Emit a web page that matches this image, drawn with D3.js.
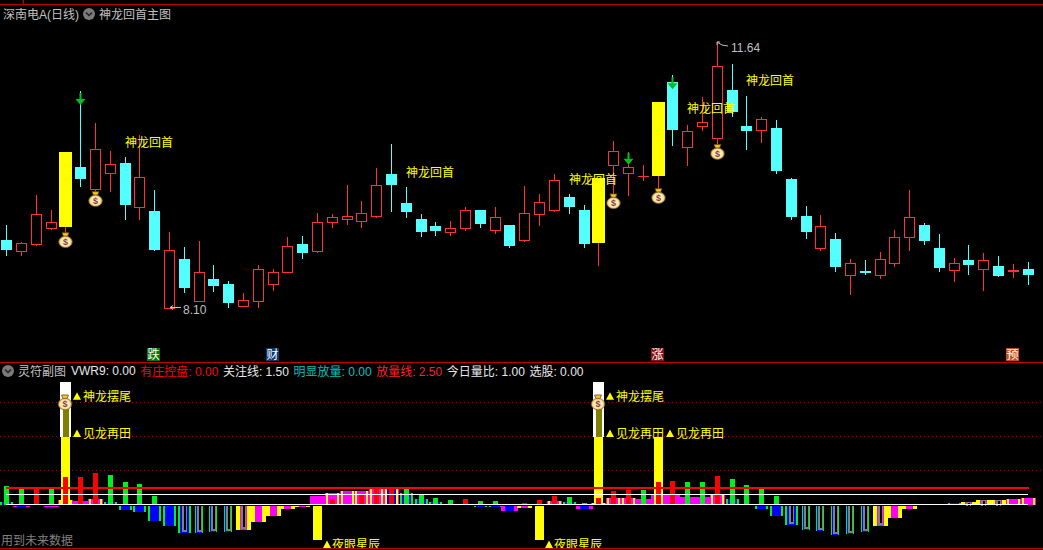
<!DOCTYPE html>
<html>
<head>
<meta charset="utf-8">
<script src="https://cdn.jsdelivr.net/npm/d3@7/dist/d3.min.js"></script>
<style>
html,body{margin:0;padding:0;background:#000;overflow:hidden}
svg{display:block;background:#000}
text{font-family:"Liberation Sans","Noto Sans CJK SC",sans-serif;font-size:12px}
</style>
</head>
<body>
<svg id="c" width="1043" height="550"></svg>
<script>
const opens=[9.00,8.86,8.95,9.17,9.18,9.98,9.69,9.90,10.03,9.45,9.39,8.10,8.75,8.19,8.48,8.41,8.12,8.19,8.42,8.58,8.95,8.85,9.24,9.29,9.26,9.33,9.89,9.50,9.28,9.19,9.11,9.17,9.40,9.14,9.20,9.00,9.35,9.40,9.58,9.40,8.96,10.01,9.90,9.86,9.86,11.12,10.25,10.53,10.37,11.01,10.53,10.47,10.50,9.82,9.32,8.90,9.02,8.54,8.59,8.54,8.69,9.05,9.20,8.90,8.60,8.74,8.62,8.65,8.59,8.61];
const closes=[8.87,8.96,9.35,9.25,10.18,9.82,10.22,10.02,9.47,9.84,8.87,8.87,8.36,8.58,8.39,8.16,8.20,8.62,8.57,8.92,8.83,9.24,9.31,9.33,9.37,9.74,9.74,9.38,9.11,9.12,9.16,9.40,9.22,9.31,8.92,9.36,9.51,9.80,9.44,8.95,9.83,10.20,9.98,9.86,10.85,10.47,10.46,10.58,11.33,10.72,10.46,10.62,9.93,9.31,9.11,9.19,8.64,8.70,8.56,8.75,9.05,9.31,8.99,8.63,8.70,8.67,8.73,8.52,8.60,8.53];
const highs=[9.20,8.98,9.60,9.40,10.18,11.00,10.57,10.19,10.11,10.41,9.67,9.11,8.91,8.99,8.67,8.45,8.29,8.67,8.61,9.04,9.06,9.36,9.35,9.74,9.52,9.97,10.29,9.71,9.35,9.24,9.26,9.44,9.40,9.44,9.20,9.73,9.62,9.89,9.62,9.47,9.83,10.33,10.18,10.01,10.85,11.21,10.54,10.92,11.64,11.36,10.93,10.65,10.61,9.83,9.46,9.34,9.10,8.75,8.74,8.84,9.14,9.67,9.23,9.08,8.76,8.94,8.83,8.79,8.68,8.71];
const lows=[8.80,8.80,8.94,9.15,9.10,9.73,9.60,9.66,9.29,9.29,8.87,8.10,8.31,8.19,8.32,8.11,8.12,8.11,8.33,8.58,8.76,8.84,9.18,9.22,9.18,9.31,9.39,9.31,9.06,9.07,9.07,9.14,9.18,9.10,8.91,8.99,9.20,9.39,9.36,8.91,8.66,9.63,9.60,9.81,9.69,10.27,10.01,10.47,10.27,10.66,10.22,10.31,9.90,9.28,9.03,8.87,8.59,8.28,8.55,8.49,8.65,8.87,8.95,8.59,8.45,8.55,8.33,8.52,8.51,8.41];
const yellowCandles=[4,40,44];
const moneyBags=[[4,9.00],[6,9.55],[41,9.52],[44,9.59],[48,10.18]];
const downArrows=[[5,10.81],[42,10.01],[45,11.02]];
const dragonLabels=[[8,10.31],[27,9.91],[38,9.82],[46,10.77],[50,11.14]];
const dragonText="神龙回首";
const eventBadges=[[10,"跌","#007a00"],[18,"财","#0a3a70"],[44,"涨","#8a1010"],[68,"预","#c0501a"]];

const thinValues=[2.7,2.4,2.6,2.4,4.0,4.0,4.6,4.3,3.3,3.0,1.25,0,0,0,0,0,0,0,0,0,0,0,0.8,0,1.4,2.6,2.6,2.3,1.4,1.0,0.7,0.8,0.5,0.5,0,0.2,0.7,1.25,1.1,0.2,1.0,2.0,2.1,2.1,3.3,3.5,3.3,3.3,4.2,3.75,2.9,2.4,1.25,0,0,0,0,0,0,0,0,0,0,0,0,0,0,0,0,0];
const thinKinds=[..."GGRGRRRGGGG-----------R-RRRGGGGRGG-RRRGGRRRGRRGGRGGGG-----------------"];
const bandValues=[0.35,-0.2,0,-0.2,0.65,0.5,0.8,0.35,-0.66,-0.95,-2.3,-3.0,-4.05,-4.05,-3.9,-3.9,-3.6,-2.4,-1.55,-0.5,-0.1,1.25,1.7,2.0,2.0,2.3,2.3,1.7,0.8,0.35,0,0,-0.2,-0.2,-0.8,-0.35,0,0.5,0.35,-0.5,0.2,0.95,0.95,0.8,1.4,1.4,1.1,1.1,1.4,0.8,0,-0.5,-1.55,-2.9,-3.6,-3.75,-4.35,-4.2,-3.9,-3.0,-1.85,-0.5,0,0,0.2,0.35,0.65,0.65,0.8,0.95];
const bandKinds=["g","h","-","m","p","m","p","g","g","g","g","g","v","n","n","n","w","y","y","y","y","m","p","p","p","p","b","g","g","g","-","-","g","g","h","y","-","p","g","h","p","p","p","m","m","m","m","m","p","g","-","g","g","v","n","n","n","n","n","w","y","y","-","-","g","w","w","w","p","p"];
const tallYellow=[[4,10],[40,10],[44,10]];
const nightYellow=[[21,-5.07],[36,-5.07]];
const whiteCaps=[[4,18,14],[40,18,14]];
const subLabels=[[4,16,"神龙摆尾"],[4,10.5,"见龙再田"],[40,16,"神龙摆尾"],[40,10.5,"见龙再田"],[44,10.5,"见龙再田"],[21,-5.8,"夜眼星辰"],[36,-5.8,"夜眼星辰"]];
const subBags=[[4,15],[40,15]];
const subGrid=[5,10,15];
const focusLine=1.5, volumeLine=2.5;
const legendNames=["VWR9","有庄控盘","关注线","明显放量","放量线","今日量比","选股"];
const legendValues=["0.00","0.00","1.50","0.00","2.50","1.00","0.00"];
const legendColors=["#e8e8e8","#ff0000","#e8e8e8","#00c0c0","#ff2020","#e8e8e8","#e8e8e8"];

const RED="#ff3232",CYAN="#54ffff",YEL="#ffff00",GRN="#00ee22",BLU="#0000ff",MAG="#ff00ff",BORDER="#c00000",GREY="#c0c0c0";
const svg=d3.select("#c");
const xs=d3.scaleBand().domain(d3.range(opens.length)).range([-0.7825,1035.57]);
const cx=i=>Math.floor(xs(i)+xs.bandwidth()/2);
const yP=d3.scaleLinear().domain([8.10,11.64]).range([307.5,43]);
const yS=d3.scaleLinear().domain([0,15]).range([504.5,402.5]);
const R=Math.round;
const rect=(g,x,y,w,h,f)=>g.append("rect").attr("x",x).attr("y",y).attr("width",w).attr("height",h).attr("fill",f).attr("shape-rendering","crispEdges");

const defs=svg.append("defs");
const grad=defs.append("radialGradient").attr("id","bagFill");
grad.append("stop").attr("offset","0%").attr("stop-color","#fff6d0");
grad.append("stop").attr("offset","70%").attr("stop-color","#fbe9a8");
grad.append("stop").attr("offset","100%").attr("stop-color","#e0a840");

// panel borders
const frame=svg.append("g");
rect(frame,0,4,1043,1,BORDER);rect(frame,23,0,1,4,BORDER);rect(frame,0,362,1043,1,BORDER);rect(frame,0,548,1043,1,BORDER);

// sub-panel dotted grid
svg.append("g").selectAll("line").data(subGrid).join("line")
 .attr("x1",0).attr("x2",1043).attr("y1",d=>yS(d)).attr("y2",d=>yS(d))
 .attr("stroke","#a80000").attr("stroke-dasharray","1 3").attr("shape-rendering","crispEdges");

// candles
const gc=svg.append("g");
opens.forEach((o,i)=>{
  const c=closes[i],x=cx(i),top=R(yP(Math.max(o,c))),bot=R(yP(Math.min(o,c))),hi=R(yP(highs[i])),lo=R(yP(lows[i]));
  if(yellowCandles.includes(i)){
    rect(gc,x,hi,1,lo-hi,RED);
    rect(gc,x-6,top,13,bot-top,YEL);
    return;
  }
  const up=c>=o;
  const col=up?RED:CYAN;
  rect(gc,x,hi,1,lo-hi+1,col);
  if(c===o){rect(gc,x-5,top,11,1,col);return;}
  if(up){
    gc.append("rect").attr("x",x-4.5).attr("y",top+.5).attr("width",10).attr("height",bot-top)
      .attr("fill","#000").attr("stroke",col).attr("stroke-width",1).attr("shape-rendering","crispEdges");
  } else rect(gc,x-5,top,11,Math.max(bot-top,1),col);
});

// money bag glyph
function bag(g,x,y){
  const b=g.append("g").attr("transform",`translate(${x},${y})`);
  b.append("path").attr("d","M-3.5,-7.5 L3.5,-7.5 L2,-4 L-2,-4 Z").attr("fill","#f8c818").attr("stroke","#6a4a20").attr("stroke-width",.8);
  b.append("ellipse").attr("cx",0).attr("cy",1.6).attr("rx",6.8).attr("ry",5.8).attr("fill","url(#bagFill)").attr("stroke","#7a5a30").attr("stroke-width",.7);
  b.append("text").attr("x",0).attr("y",1.6).attr("text-anchor","middle").attr("dominant-baseline","central")
   .style("font-size","9px").style("font-weight","bold").attr("fill","#8a3a4a").text("$");
}
moneyBags.forEach(([i,p])=>bag(svg,cx(i)+.5,yP(p)));

// green arrows
const ga=svg.append("g");
downArrows.forEach(([i,p])=>{
  const x=cx(i)+.5,y=yP(p);
  ga.append("path").attr("d",`M${x-1},${y-12} h2 v6 h4 l-5,6 l-5,-6 h4 Z`).attr("fill","#00c020");
});

// dragon labels
svg.append("g").selectAll("text").data(dragonLabels).join("text")
 .attr("x",d=>cx(d[0])).attr("y",d=>yP(d[1])).attr("dominant-baseline","central")
 .attr("fill",YEL).text(dragonText);

// high / low annotation
const maxI=d3.maxIndex(highs),minI=d3.minIndex(lows);
const ann=svg.append("g").attr("stroke",GREY).attr("fill","none");
const lx=cx(minI)+1,ly=yP(lows[minI]);
ann.append("path").attr("d",`M${lx},${ly} h11 M${lx},${ly} l3,-2 M${lx},${ly} l3,2`);
const hx=cx(maxI),hy=yP(highs[maxI])-1;
ann.append("path").attr("d",`M${hx},${hy} l3,0 M${hx},${hy} v3 M${hx},${hy} l5,3 l6,1`);
svg.append("text").attr("x",lx+13).attr("y",ly+2).attr("dominant-baseline","central").attr("fill",GREY).text(lows[minI].toFixed(2));
svg.append("text").attr("x",hx+14).attr("y",hy+6).attr("dominant-baseline","central").attr("fill",GREY).text(highs[maxI].toFixed(2));

// event badges
const gb=svg.append("g");
eventBadges.forEach(([i,t,col])=>{
  const x=cx(i);
  rect(gb,x-7,348,13,13,col);
  gb.append("text").attr("x",x-.5).attr("y",353.5).attr("text-anchor","middle").attr("dominant-baseline","central").attr("fill","#fff").text(t);
});

// titles
function chevron(g,x,y){
  g.append("circle").attr("cx",x).attr("cy",y).attr("r",6).attr("fill","#7a7a7a");
  g.append("path").attr("d",`M${x-3},${y-1.5} L${x},${y+1.5} L${x+3},${y-1.5}`).attr("fill","none").attr("stroke","#222").attr("stroke-width",1.5);
}
const head=svg.append("g");
head.append("text").attr("x",3).attr("y",14).attr("dominant-baseline","central").attr("fill",GREY).text("深南电A(日线)");
chevron(head,89,14);
head.append("text").attr("x",99).attr("y",14).attr("dominant-baseline","central").attr("fill",GREY).text("神龙回首主图");
chevron(head,8,371);
head.append("text").attr("x",18).attr("y",371).attr("dominant-baseline","central").attr("fill",GREY).text("灵符副图");
let lgx=71;
legendNames.forEach((n,i)=>{
  const t=head.append("text").attr("x",lgx).attr("y",371).attr("dominant-baseline","central").attr("fill",legendColors[i]).text(`${n}: ${legendValues[i]}`);
  lgx+=t.node().getComputedTextLength()+4.6;
});
head.append("text").attr("x",1).attr("y",540).attr("dominant-baseline","central").attr("fill","#808080").text("用到未来数据");

// sub-panel bars
const gs=svg.append("g");
const yv=v=>R(yS(v));
const vbar=(i,v,w,f)=>{
  const x=cx(i)-Math.floor(w/2),a=v>0?yv(v):yv(0)+1,h=Math.max(Math.abs(yv(v)-yv(0)),1);
  return rect(gs,x,a,w,h,f);
};
const kindStyle={
 g:{o:GRN,ow:13,i:BLU,iw:9},
 h:{o:MAG,ow:17,i:BLU,iw:9},
 v:{o:GRN,ow:13,i:BLU,iw:9,hollow:1},
 n:{o:GRN,ow:8,i:BLU,iw:6,hollow:1},
 y:{o:YEL,ow:15,i:MAG,iw:7},
 w:{o:YEL,ow:15,i:MAG,iw:7,hollow:1},
 m:{o:MAG,ow:15},
 p:{o:YEL,ow:13,i:MAG,iw:9,wrap:1},
 b:{o:YEL,ow:13,i:BLU,iw:9,wrap:1}
};
bandValues.forEach((v,i)=>{
  const k=kindStyle[bandKinds[i]];
  if(!k||!v)return;
  if(k.wrap)vbar(i,v,15,MAG);
  vbar(i,v,k.ow,k.o);
  if(k.i)vbar(i,v,k.iw,k.i);
  if(k.hollow){
    const a=yv(0)+1,b=yv(v);
    if(b>a){
      rect(gs,cx(i)-2,a,5,b-a,"#808080");
      rect(gs,cx(i),a,2,b-a-2,"#000");
    } else {
      rect(gs,cx(i)-2,b,5,a-b,"#808080");
      rect(gs,cx(i),b+1,2,a-b-1,"#000");
    }
  }
});
whiteCaps.forEach(([i,t,m])=>{
  rect(gs,cx(i)-5,yv(t),11,yv(10)-yv(t),"#ffffff");
  rect(gs,cx(i)-2,yv(m),6,yv(10)-yv(m),"#808000");
});
tallYellow.forEach(([i,v])=>vbar(i,v,9,YEL));
nightYellow.forEach(([i,v])=>vbar(i,v,9,YEL));
thinValues.forEach((v,i)=>{
  if(!v)return;
  vbar(i,v,5,thinKinds[i]==="R"?"#ff0000":GRN);
});
// reference lines
const xL=xs(0)+7;
rect(gs,xL,yv(volumeLine)-1,1029-xL,2,"#ff0000");
rect(gs,xL,Math.floor(yS(focusLine)),1028-xL,1,"#ffffff");
rect(gs,xL,Math.floor(yS(0)),1028-xL,1,"#ffffff");

subBags.forEach(([i,v])=>bag(svg,cx(i),yS(v)));

// sub-panel labels (clipped by panel frame, as in the reference)
svg.append("clipPath").attr("id","subclip").append("rect").attr("x",0).attr("y",363).attr("width",1043).attr("height",185);
const gl=svg.append("g").attr("clip-path","url(#subclip)");
subLabels.forEach(([i,v,t])=>{
  const low=v<0,x=cx(i)+(low?6:8),y=yS(v);
  gl.append("path").attr("d",`M${x},${y+4} h8 l-4,-7.5 Z`).attr("fill",YEL);
  gl.append("text").attr("x",x+(low?9:10)).attr("y",y).attr("dominant-baseline","central").attr("fill",YEL).text(t);
});

// CJK labels sit one pixel lower than the numeric ones
svg.selectAll("text").filter(function(){return /[\u4e00-\u9fff]/.test(this.textContent);}).attr("dy",1);
</script>
</body>
</html>
